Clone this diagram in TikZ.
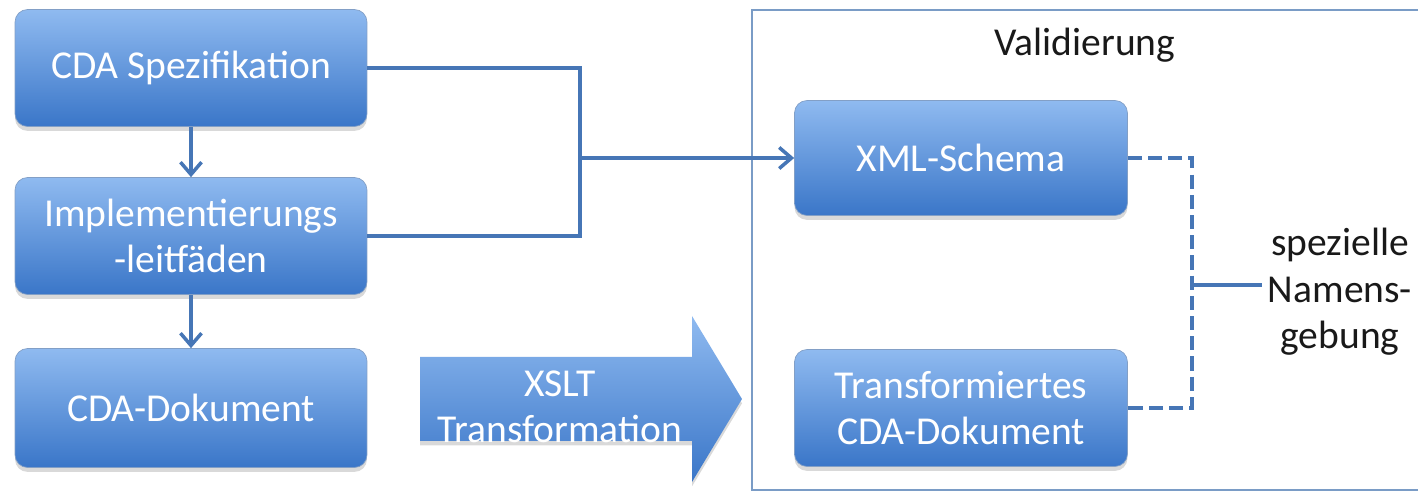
\documentclass[tikz,border=0pt]{standalone}
\usepackage{fontspec}
\setmainfont{Carlito}
\usetikzlibrary{arrows.meta,shadows}
\definecolor{boxtop}{RGB}{143,186,240}
\definecolor{boxbot}{RGB}{58,118,200}
\definecolor{linecol}{RGB}{70,118,182}
\definecolor{framecol}{RGB}{122,156,198}

\begin{document}
\begin{tikzpicture}[
    boxtext/.style={text=white, align=center, font=\fontsize{22.5}{26.5}\selectfont},
    block/.style={boxtext, rounded corners=0.25cm, top color=boxtop, bottom color=boxbot,
      draw=boxbot!80!black!60, line width=0.4pt,
      drop shadow={shadow xshift=0pt, shadow yshift=-2.5pt, opacity=0.3}},
    conn/.style={draw=linecol, line width=2.4pt},
    tip/.style={-{Straight Barb[length=7pt,width=12pt,line width=2pt]}},
    dashconn/.style={draw=linecol, line width=2pt, dash pattern=on 8pt off 3.5pt},
    label/.style={text=black!90, align=center, font=\fontsize{22.5}{26.5}\selectfont},
    x=0.02cm,y=-0.02cm
    ]
    \useasboundingbox (0,0) rectangle (1418,493);
    \node[block, minimum width=7.04cm, minimum height=2.34cm] (spez) at (191,68) {CDA Spezifikation};
    \node[block, minimum width=7.04cm, minimum height=2.34cm] (impl) at (191,236) {Implementierungs\\-leitfäden};
    \node[block, minimum width=7.04cm, minimum height=2.38cm] (doku) at (191,408) {CDA-Dokument};
    \node[block, minimum width=6.66cm, minimum height=2.3cm] (xml) at (961,158) {XML-Schema};
    \node[block, minimum width=6.66cm, minimum height=2.34cm] (trans) at (961,408) {Transformiertes\\CDA-Dokument};
    \draw[framecol, line width=1.1pt] (1418,10) -| (752,490) -- (1418,490);
    \node[label] (valid) at (1085,45) {Validierung};
    \node[label] (namen) at (1340,292) {spezielle\\Namens-\\gebung};
    \shade[top color=boxtop, bottom color=boxbot,
      drop shadow={shadow xshift=0pt, shadow yshift=-2.5pt, opacity=0.3}]
      (420,357) -- (692,357) -- (692,316) -- (742,399) -- (692,482) -- (692,441) -- (420,441) -- cycle;
    \node[boxtext] (xslt) at (560,407) {XSLT\\Transformation};
    \coordinate (join) at (580,158);
    \coordinate (dj) at (1192,285);
    \draw[conn, line width=2pt, tip] (spez) -- (impl);
    \draw[conn, line width=2pt, tip] (impl) -- (doku);
    \draw[conn] (spez.east) -| (join) |- (impl.east);
    \draw[conn, tip] (join) -- (xml.west);
    \draw[dashconn] (xml.east) -| (dj) |- (trans.east);
    \draw[conn, line width=2pt] (dj) -- (dj -| namen.west);
  \end{tikzpicture}
\end{document}
